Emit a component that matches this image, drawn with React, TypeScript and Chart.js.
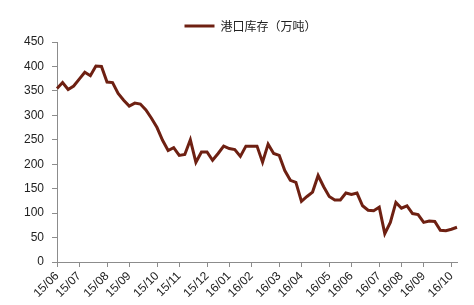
import React, { useEffect, useRef } from "react";
import { Chart, registerables } from "chart.js";

Chart.register(...registerables);

const monthLabels = ["15/06", "15/07", "15/08", "15/09", "15/10", "15/11", "15/12", "16/01", "16/02", "16/03", "16/04", "16/05", "16/06", "16/07", "16/08", "16/09", "16/10"];
const monthStartIndex = [0, 4, 9, 13, 18, 22, 27, 31, 35, 40, 44, 49, 53, 58, 62, 66, 71];

const inventory = [
  355, 367, 353, 360, 374, 388, 381, 401, 400, 368,
  367, 345, 331, 319, 325, 323, 311, 294, 275, 249,
  228, 234, 218, 220, 250, 204, 225, 225, 208, 222,
  237, 232, 230, 216, 237, 237, 237, 204, 241, 222,
  218, 187, 167, 163, 124, 134, 143, 177, 154, 134,
  127, 127, 141, 138, 141, 115, 106, 105, 112, 58,
  81, 122, 110, 115, 99, 97, 81, 84, 83, 65,
  64, 67, 71,
];

const seriesName = "港口库存（万吨）";
const yTicks = { min: 0, max: 450, step: 50 };

const labels = inventory.map((_, i) => {
  const k = monthStartIndex.indexOf(i);
  return k >= 0 ? monthLabels[k] : "";
});

const legendShift = {
  id: "legendShift",
  beforeDraw(chart: any) {
    const lg = chart.legend;
    if (lg && !lg.__shifted) {
      lg.left += 14;
      lg.right += 14;
      lg.__shifted = true;
    }
  },
};

export default function App() {
  const ref = useRef<HTMLCanvasElement>(null);
  useEffect(() => {
    if (!ref.current) return;
    const axisColor = "#8c8c8c";
    const chart = new Chart(ref.current, {
      type: "line",
      data: {
        labels,
        datasets: [
          {
            label: seriesName,
            data: inventory,
            borderColor: "#6e2012",
            backgroundColor: "#6e2012",
            borderWidth: 3,
            pointRadius: 0,
            tension: 0,
          },
        ],
      },
      plugins: [legendShift],
      options: {
        animation: false,
        responsive: false,
        maintainAspectRatio: false,
        layout: { padding: { left: 16, right: 17, top: 4, bottom: 0 } },
        plugins: {
          tooltip: { enabled: false },
          legend: {
            display: true,
            position: "top",
            labels: {
              font: { family: "'Noto Sans CJK SC'", size: 12 },
              color: "#222",
              boxWidth: 30,
              boxHeight: 3,
              padding: 16,
              generateLabels: (c: any) => {
                const items = Chart.defaults.plugins.legend.labels.generateLabels(c);
                items.forEach((it: any) => { it.lineWidth = 0; });
                return items;
              },
            },
          },
        },
        scales: {
          x: {
            type: "category",
            offset: false,
            border: { display: true, color: axisColor, width: 1 },
            grid: {
              display: true,
              drawOnChartArea: false,
              drawTicks: true,
              tickLength: 5,
              color: axisColor,
            },
            ticks: {
              autoSkip: false,
              maxRotation: 45,
              minRotation: 45,
              padding: 2,
              color: "#222",
              font: { family: "'Liberation Sans', Arial, sans-serif", size: 12 },
              callback: (_v: any, i: number) => (labels[i] ? labels[i] : null),
            },
            afterFit: (s: any) => { s.height = 43; },
          },
          y: {
            min: yTicks.min,
            max: yTicks.max,
            border: { display: true, color: axisColor, width: 1 },
            grid: {
              display: true,
              drawOnChartArea: false,
              drawTicks: true,
              tickLength: 5,
              color: axisColor,
            },
            ticks: {
              stepSize: yTicks.step,
              padding: 8,
              color: "#222",
              font: { family: "'Liberation Sans', Arial, sans-serif", size: 12 },
            },
          },
        },
      },
    });
    return () => chart.destroy();
  }, []);
  return (
    <div style={{ position: "fixed", left: 0, top: 0, width: 474, height: 305, background: "#fff" }}>
      <canvas ref={ref} width={474} height={305} style={{ width: 474, height: 305 }} />
    </div>
  );
}
